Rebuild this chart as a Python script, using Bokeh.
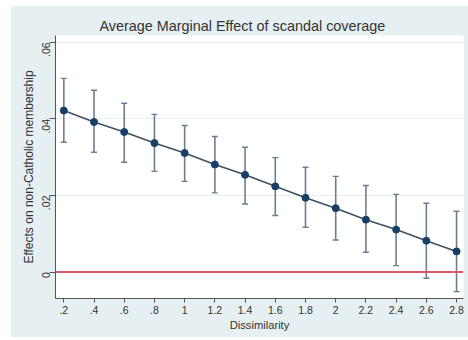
import math
from bokeh.plotting import figure
from bokeh.models import ColumnDataSource, Whisker, TeeHead, Span, FixedTicker, Range1d
from bokeh.embed import file_html
from bokeh.resources import INLINE

# ---- data ----
dissimilarity = [0.2, 0.4, 0.6, 0.8, 1.0, 1.2, 1.4, 1.6, 1.8, 2.0, 2.2, 2.4, 2.6, 2.8]
effect = [0.0422, 0.0392, 0.0366, 0.0337, 0.0311, 0.0281, 0.0254, 0.0224,
          0.0194, 0.0167, 0.0137, 0.0111, 0.0082, 0.0054]
ci_upper = [0.0506, 0.0475, 0.0441, 0.0412, 0.0383, 0.0354, 0.0326, 0.0299,
            0.0274, 0.0250, 0.0226, 0.0203, 0.0180, 0.0159]
ci_lower = [0.0339, 0.0313, 0.0287, 0.0263, 0.0237, 0.0207, 0.0178, 0.0148,
            0.0117, 0.0084, 0.0052, 0.0017, -0.0016, -0.0051]

x_ticks = [0.2, 0.4, 0.6, 0.8, 1.0, 1.2, 1.4, 1.6, 1.8, 2.0, 2.2, 2.4, 2.6, 2.8]
x_tick_labels = [".2", ".4", ".6", ".8", "1", "1.2", "1.4", "1.6", "1.8", "2",
                 "2.2", "2.4", "2.6", "2.8"]
y_ticks = [0.0, 0.02, 0.04, 0.06]
y_tick_labels = ["0", ".02", ".04", ".06"]

title_text = "Average Marginal Effect of scandal coverage"
x_label = "Dissimilarity"
y_label = "Effects on non-Catholic membership"

BG = "#e6eff1"
FONT = "Liberation Sans"
TXT = "#333333"

src = ColumnDataSource(dict(x=dissimilarity, y=effect, lo=ci_lower, hi=ci_upper))

p = figure(width=458, height=332, output_backend="svg", toolbar_location=None,
           x_range=Range1d(0.145, 2.846), y_range=Range1d(-0.0069, 0.0618),
           min_border_left=45, min_border_right=5, min_border_top=30,
           min_border_bottom=39)
p.margin = (5, 0, 0, 10)

p.background_fill_color = "white"
p.border_fill_color = BG
p.outline_line_color = None

p.title.text = title_text
p.title.text_font = FONT
p.title.text_font_size = "14.4px"
p.title.text_font_style = "normal"
p.title.text_color = TXT
p.title.align = "left"
p.title.offset = 44
p.title.standoff = 4

# axes
for ax in (p.xaxis[0], p.yaxis[0]):
    ax.axis_line_color = "#555555"
    ax.axis_line_width = 1
    ax.major_tick_line_color = "#555555"
    ax.major_tick_in = 0
    ax.minor_tick_line_color = None
    ax.major_label_text_font = FONT
    ax.major_label_text_font_size = "10.5px"
    ax.major_label_text_color = TXT
    ax.axis_label_text_font = FONT
    ax.axis_label_text_font_style = "normal"
    ax.axis_label_text_color = TXT

p.xaxis.ticker = FixedTicker(ticks=x_ticks)
p.xaxis.major_label_overrides = {t: l for t, l in zip(x_ticks, x_tick_labels)}
p.xaxis.major_tick_out = 4
p.xaxis.major_label_standoff = 3
p.xaxis.axis_label = x_label
p.xaxis.axis_label_text_font_size = "11.2px"
p.xaxis.axis_label_standoff = 2

p.yaxis.ticker = FixedTicker(ticks=y_ticks)
p.yaxis.major_label_overrides = {t: l for t, l in zip(y_ticks, y_tick_labels)}
p.yaxis.major_tick_out = 6
p.yaxis.major_label_standoff = 3
p.yaxis.major_label_orientation = math.pi / 2
p.yaxis.axis_label = y_label
p.yaxis.axis_label_text_font_size = "12px"
p.yaxis.axis_label_standoff = 0

p.xgrid.grid_line_color = None
p.ygrid.grid_line_color = "#e9f0f2"
p.ygrid.grid_line_width = 1

# reference line at 0
p.add_layout(Span(location=0, dimension="width", line_color="#d9596b", line_width=2))

# error bars
w = Whisker(source=src, base="x", upper="hi", lower="lo",
            line_color="#6d7f8f", line_width=1.6,
            upper_head=TeeHead(size=6, line_color="#6d7f8f", line_width=1.4),
            lower_head=TeeHead(size=6, line_color="#6d7f8f", line_width=1.4))
p.add_layout(w)

p.line("x", "y", source=src, line_color="#3f5163", line_width=1.6)
p.scatter("x", "y", source=src, size=7, fill_color="#1a3f66", line_color="#1a3f66")

open("out.html", "w").write(file_html(p, INLINE))
